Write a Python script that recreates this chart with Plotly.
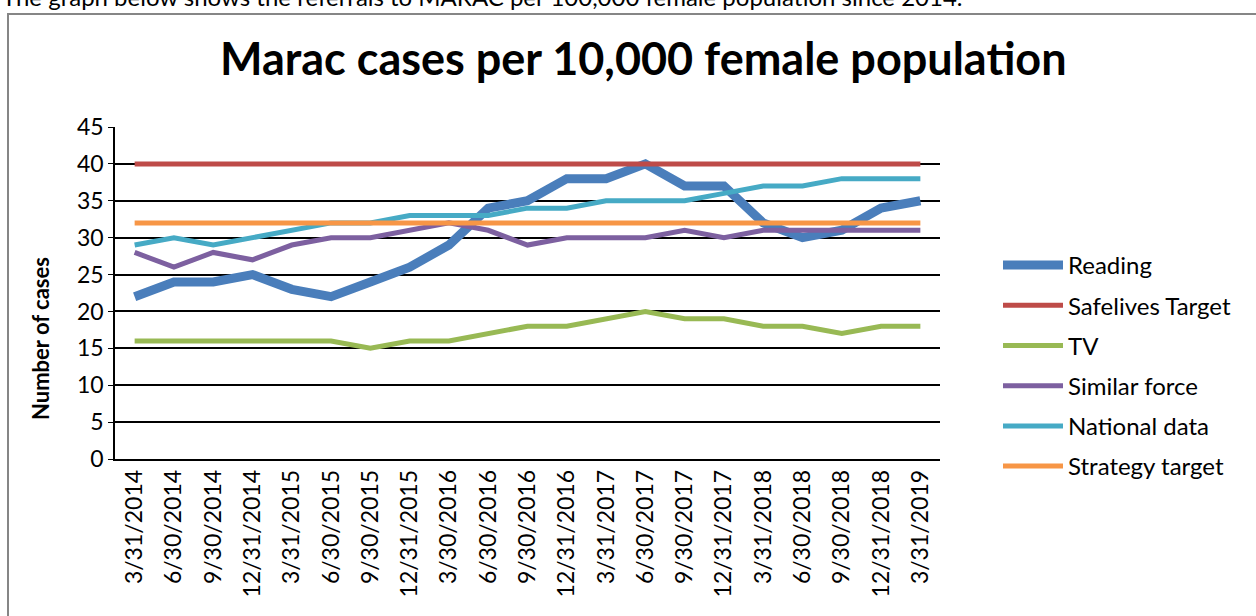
import plotly.graph_objects as go

dates = ["3/31/2014", "6/30/2014", "9/30/2014", "12/31/2014", "3/31/2015", "6/30/2015",
         "9/30/2015", "12/31/2015", "3/30/2016", "6/30/2016", "9/30/2016", "12/31/2016",
         "3/31/2017", "6/30/2017", "9/30/2017", "12/31/2017", "3/31/2018", "6/30/2018",
         "9/30/2018", "12/31/2018", "3/31/2019"]
reading = [22, 24, 24, 25, 23, 22, 24, 26, 29, 34, 35, 38, 38, 40, 37, 37, 32, 30, 31, 34, 35]
safelives = [40] * 21
tv = [16, 16, 16, 16, 16, 16, 15, 16, 16, 17, 18, 18, 19, 20, 19, 19, 18, 18, 17, 18, 18]
similar = [28, 26, 28, 27, 29, 30, 30, 31, 32, 31, 29, 30, 30, 30, 31, 30, 31, 31, 31, 31, 31]
national = [29, 30, 29, 30, 31, 32, 32, 33, 33, 33, 34, 34, 35, 35, 35, 36, 37, 37, 38, 38, 38]
strategy = [32] * 21

series = [
    ("Reading", reading, "#4a7ebb", 9),
    ("Safelives Target", safelives, "#be4b48", 5),
    ("TV", tv, "#98b954", 5),
    ("Similar force", similar, "#7d60a0", 5),
    ("National data", national, "#46aac5", 5),
    ("Strategy target", strategy, "#f79646", 5),
]

FONT = "Lato"
fig = go.Figure()
for name, vals, color, w in series:
    fig.add_trace(go.Scatter(x=dates, y=vals, name=name, mode="lines",
                             line=dict(color=color, width=w), legendgroup=name))

L, R, T, B = 115, 940, 127, 459
W, H = 1256, 616
pw, ph = R - L, B - T

def px(x):
    return (x - L) / pw

def py(y):
    return (B - y) / ph

fig.update_layout(
    width=W, height=H,
    margin=dict(l=L, r=W - R, t=T, b=H - B, pad=0),
    paper_bgcolor="white", plot_bgcolor="white",
    font=dict(family=FONT, color="black", size=20),
    showlegend=True,
    legend=dict(x=px(998), xanchor="left", y=py(366), yanchor="middle",
                font=dict(size=24, family=FONT), tracegroupgap=6, itemwidth=60,
                bgcolor="rgba(0,0,0,0)"),
    xaxis=dict(type="category", range=[-0.5, 20.5], tickangle=-90,
               tickfont=dict(size=23, family=FONT), showgrid=False,
               showline=True, linecolor="black", linewidth=1.5,
               ticks="", zeroline=False),
    yaxis=dict(range=[0, 45], tickvals=list(range(0, 50, 5)),
               tickfont=dict(size=23, family=FONT), showgrid=True, gridcolor="black",
               gridwidth=1.5, showline=True, linecolor="black", linewidth=1.5,
               ticks="outside", ticklen=5, tickcolor="black", zeroline=False),
    shapes=[dict(type="rect", xref="paper", yref="paper",
                 x0=px(8), x1=px(1262), y0=py(14), y1=py(625),
                 line=dict(color="#868686", width=2), fillcolor="rgba(0,0,0,0)",
                 layer="below")],
    annotations=[
        dict(text="<b>Marac cases per 10,000 female population</b>", xref="paper", yref="paper",
             x=px(643), y=py(58), xanchor="center", yanchor="middle", showarrow=False,
             font=dict(size=45, family=FONT, color="black")),
        dict(text="<b>Number of cases</b>", xref="paper", yref="paper",
             x=px(40), y=py(339), xanchor="center", yanchor="middle", showarrow=False,
             textangle=-90, font=dict(size=22, family=FONT, color="black")),
        dict(text="The graph below shows the referrals to MARAC per 100,000 female population since 2014.",
             xref="paper", yref="paper", x=px(0), y=py(13), xanchor="left", yanchor="bottom",
             showarrow=False, font=dict(size=24, family=FONT, color="black")),
    ],
)

fig.write_html("out.html", config={"displayModeBar": False},
               post_script="document.body.style.margin='0';document.body.style.overflow='hidden';")
